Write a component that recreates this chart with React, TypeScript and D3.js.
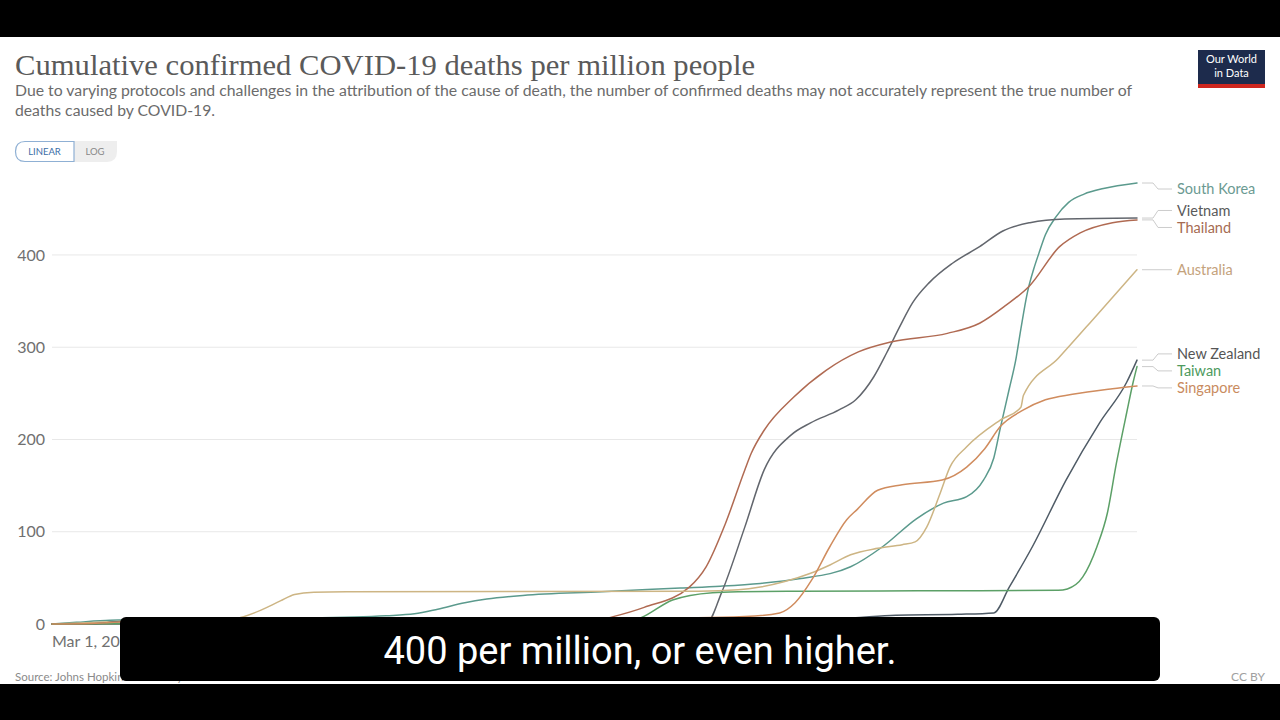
import React from "react";
import * as d3 from "d3";

type Pt = [string, number];

const southKorea: Pt[] = [
  ["2020-03-01", 0], ["2020-03-20", 1.8], ["2020-04-15", 4], ["2020-06-01", 5], ["2020-09-01", 6.3],
  ["2020-11-15", 9], ["2020-12-07", 11], ["2020-12-25", 16], ["2021-01-15", 23], ["2021-02-01", 27],
  ["2021-03-01", 31], ["2021-05-01", 35], ["2021-07-01", 39], ["2021-08-01", 41], ["2021-09-01", 44],
  ["2021-10-01", 49], ["2021-11-10", 62], ["2021-12-05", 84], ["2021-12-31", 114], ["2022-01-21", 131],
  ["2022-02-08", 138], ["2022-02-21", 156], ["2022-03-01", 180], ["2022-03-06", 212], ["2022-03-13", 255],
  ["2022-03-18", 286], ["2022-03-22", 320], ["2022-03-27", 359], ["2022-04-01", 385], ["2022-04-05", 402],
  ["2022-04-10", 422], ["2022-04-18", 441], ["2022-04-28", 457], ["2022-05-10", 466], ["2022-05-25", 472],
  ["2022-06-20", 478],
];

const vietnam: Pt[] = [
  ["2020-03-01", 0], ["2020-08-01", 0.1], ["2021-06-01", 0.4], ["2021-07-10", 0.6], ["2021-07-22", 2],
  ["2021-08-02", 34], ["2021-08-20", 105], ["2021-09-04", 167], ["2021-09-25", 205], ["2021-10-10", 218],
  ["2021-11-01", 232], ["2021-11-14", 243], ["2021-11-28", 268], ["2021-12-08", 294], ["2021-12-18", 322],
  ["2021-12-28", 348], ["2022-01-10", 370], ["2022-01-28", 391], ["2022-02-18", 409], ["2022-03-08", 426],
  ["2022-03-29", 435], ["2022-04-25", 439], ["2022-06-20", 440],
];

const thailand: Pt[] = [
  ["2020-03-01", 0], ["2020-04-15", 0.6], ["2021-03-31", 1.4], ["2021-04-20", 2], ["2021-05-10", 8],
  ["2021-06-03", 18], ["2021-07-08", 40], ["2021-07-21", 62], ["2021-08-05", 109], ["2021-08-20", 167],
  ["2021-08-25", 185], ["2021-09-04", 210], ["2021-09-27", 246], ["2021-10-22", 275], ["2021-11-16", 295],
  ["2021-12-12", 306], ["2022-01-24", 315], ["2022-02-18", 326], ["2022-03-10", 345], ["2022-03-29", 367],
  ["2022-04-21", 409], ["2022-05-07", 424], ["2022-06-01", 435], ["2022-06-20", 438],
];

const australia: Pt[] = [
  ["2020-03-01", 0], ["2020-04-15", 2.4], ["2020-05-15", 4], ["2020-07-15", 4.5], ["2020-07-25", 7],
  ["2020-08-10", 15], ["2020-08-25", 25], ["2020-09-05", 32], ["2020-09-20", 34.5], ["2020-10-15", 35],
  ["2021-07-15", 35.5], ["2021-08-15", 37], ["2021-09-01", 40], ["2021-09-20", 46], ["2021-10-10", 55],
  ["2021-10-25", 64], ["2021-11-10", 75], ["2021-12-01", 82], ["2021-12-20", 86], ["2021-12-30", 89],
  ["2022-01-08", 105], ["2022-01-18", 140], ["2022-01-26", 170], ["2022-02-08", 192], ["2022-03-06", 221],
  ["2022-03-22", 235], ["2022-03-24", 248], ["2022-04-20", 288], ["2022-05-20", 335], ["2022-06-20", 384],
];

const newZealand: Pt[] = [
  ["2020-03-01", 0], ["2020-04-01", 0.2], ["2020-04-20", 2.5], ["2020-05-15", 4.2], ["2020-12-31", 5],
  ["2021-08-01", 5.2], ["2021-09-15", 5.5], ["2021-11-01", 6], ["2021-12-15", 9.5], ["2022-02-01", 10.5],
  ["2022-03-01", 12], ["2022-03-13", 40], ["2022-03-31", 84], ["2022-04-26", 156], ["2022-05-22", 218],
  ["2022-06-12", 262], ["2022-06-20", 286],
];

const taiwan: Pt[] = [
  ["2020-03-01", 0], ["2020-05-01", 0.3], ["2021-05-10", 0.5], ["2021-05-20", 1.5], ["2021-06-01", 7],
  ["2021-06-25", 26], ["2021-07-26", 34], ["2021-08-15", 35], ["2021-10-01", 35.6], ["2022-01-01", 36],
  ["2022-04-20", 36.5], ["2022-04-27", 38], ["2022-05-09", 51], ["2022-05-20", 84], ["2022-05-28", 120],
  ["2022-06-04", 174], ["2022-06-12", 229], ["2022-06-17", 262], ["2022-06-20", 279],
];

const singapore: Pt[] = [
  ["2020-03-01", 0], ["2020-04-01", 0.5], ["2020-05-01", 3], ["2020-06-15", 4.4], ["2021-06-01", 5.8],
  ["2021-08-20", 8], ["2021-09-16", 12], ["2021-09-28", 23], ["2021-10-11", 48], ["2021-10-25", 84],
  ["2021-11-07", 113], ["2021-11-15", 124], ["2021-12-01", 145], ["2021-12-20", 151], ["2022-01-20", 156],
  ["2022-02-08", 170], ["2022-02-22", 190], ["2022-03-06", 214], ["2022-03-24", 232], ["2022-04-10", 243],
  ["2022-05-01", 249], ["2022-06-01", 255], ["2022-06-20", 258],
];

const seriesNames = ["South Korea", "Vietnam", "Thailand", "Australia", "New Zealand", "Taiwan", "Singapore"];
const seriesData = [southKorea, vietnam, thailand, australia, newZealand, taiwan, singapore];
const lineColors = ["#5b9a8d", "#62666d", "#b06a52", "#cdb584", "#4f5b66", "#5ca067", "#d08c5e"];
const labelColors = ["#6b9a92", "#5a5a5a", "#a66b52", "#c4a27c", "#555555", "#4e9a5e", "#c98b60"];

const yTicks = [0, 100, 200, 300, 400];
const startDate = "2020-03-01";
const endDate = "2022-06-20";
const startLabel = "Mar 1, 2020";

const title = "Cumulative confirmed COVID-19 deaths per million people";
const subtitle1 =
  "Due to varying protocols and challenges in the attribution of the cause of death, the number of confirmed deaths may not accurately represent the true number of";
const subtitle2 = "deaths caused by COVID-19.";
const sourceText = "Source: Johns Hopkins University CSSE COVID-19 Data";
const caption = "400 per million, or even higher.";

export default function App() {
  const parse = d3.timeParse("%Y-%m-%d");
  const W = 1280, H = 720;
  const left = 52, right = 1137, bottom = 624;
  const x = d3.scaleTime().domain([parse(startDate)!, parse(endDate)!]).range([left, right]);
  const maxVal = d3.max(seriesData, (s) => d3.max(s, (d) => d[1]))!;
  const y = d3.scaleLinear().domain([0, maxVal]).range([bottom, 183]);
  const line = d3
    .line<Pt>()
    .x((d) => x(parse(d[0])!))
    .y((d) => y(d[1]))
    .curve(d3.curveMonotoneX);

  // label placement
  const items = seriesNames.map((name, i) => ({
    name,
    i,
    endY: y(seriesData[i][seriesData[i].length - 1][1]),
    labelY: 0,
  }));
  items.sort((a, b) => a.endY - b.endY);
  const gap = 17;
  let clusters = items.map((it) => ({ members: [it], center: it.endY }));
  let merged = true;
  while (merged) {
    merged = false;
    for (let k = 0; k < clusters.length - 1; k++) {
      const a = clusters[k], b = clusters[k + 1];
      const aBottom = a.center + ((a.members.length - 1) * gap) / 2;
      const bTop = b.center - ((b.members.length - 1) * gap) / 2;
      if (bTop - aBottom < gap) {
        const members = a.members.concat(b.members);
        const center = d3.mean(members, (m) => m.endY)!;
        clusters.splice(k, 2, { members, center });
        merged = true;
        break;
      }
    }
  }
  clusters.forEach((c) => {
    c.members.forEach((m, j) => {
      m.labelY = c.center + (j - (c.members.length - 1) / 2) * gap;
    });
  });
  const topLimit = y(maxVal) + 6;
  items.forEach((m) => {
    if (m.labelY < topLimit) m.labelY = topLimit;
  });

  const lato = "Lato, 'Open Sans', sans-serif";

  return (
    <svg
      width={W}
      height={H}
      viewBox={`0 0 ${W} ${H}`}
      style={{ position: "absolute", left: 0, top: 0, background: "#fff" }}
    >
      <rect x={0} y={0} width={W} height={H} fill="#ffffff" />

      {/* Title & subtitle */}
      <text x={15} y={75} fontFamily="'Liberation Serif', 'DejaVu Serif', serif" fontSize={29} fill="#5a5a5a"
        textLength={740} lengthAdjust="spacingAndGlyphs">
        {title}
      </text>
      <text x={15} y={96} fontFamily={lato} fontSize={14.5} fill="#6b6b6b" textLength={1117} lengthAdjust="spacingAndGlyphs">
        {subtitle1}
      </text>
      <text x={15} y={116} fontFamily={lato} fontSize={14.5} fill="#6b6b6b" textLength={200} lengthAdjust="spacingAndGlyphs">
        {subtitle2}
      </text>

      {/* Logo */}
      <rect x={1198} y={50} width={67} height={38} fill="#1d2b4c" />
      <rect x={1198} y={84} width={67} height={4} fill="#ce261e" />
      <text x={1231.5} y={63} textAnchor="middle" fontFamily={lato} fontSize={11} fill="#fff">
        Our World
      </text>
      <text x={1231.5} y={76.5} textAnchor="middle" fontFamily={lato} fontSize={11} fill="#fff">
        in Data
      </text>

      {/* LINEAR / LOG toggle */}
      <path d="M74,141 H117 Q117,141 117,151.5 Q117,162 107,162 H74 Z" fill="#eeeeee" />
      <path d="M74,141.5 H25 Q15.5,141.5 15.5,151.5 Q15.5,161.5 25,161.5 H74 Z" fill="#fff" stroke="#8fb0d4" strokeWidth={1.2} />
      <text x={44.5} y={155} textAnchor="middle" fontFamily={lato} fontSize={9.5} fill="#3c6ea8">
        LINEAR
      </text>
      <text x={95} y={155} textAnchor="middle" fontFamily={lato} fontSize={9.5} fill="#888">
        LOG
      </text>

      {/* Grid */}
      {yTicks.map((t) => (
        <g key={t}>
          <line x1={left} x2={right} y1={y(t)} y2={y(t)} stroke={t === 0 ? "#d8d8d8" : "#e8e8e8"} strokeWidth={1} />
          <text x={45} y={y(t)} dy="0.35em" textAnchor="end" fontFamily={lato} fontSize={16} fill="#707070">
            {t}
          </text>
        </g>
      ))}

      {/* Lines */}
      {seriesData.map((s, i) => (
        <path key={seriesNames[i]} d={line(s) || ""} fill="none" stroke={lineColors[i]} strokeWidth={1.5}
          strokeLinejoin="round" strokeLinecap="round" />
      ))}

      {/* Labels */}
      {items.map((m) => (
        <g key={m.name}>
          <path
            d={`M${right + 5},${m.endY} H${right + 16} L${right + 21},${m.labelY} H${right + 35}`}
            fill="none"
            stroke="#cccccc"
            strokeWidth={1}
          />
          <text x={right + 40} y={m.labelY} dy="0.35em" fontFamily={lato} fontSize={14.5} fill={labelColors[m.i]}>
            {m.name}
          </text>
        </g>
      ))}

      {/* X axis start label */}
      <text x={left} y={647} fontFamily={lato} fontSize={16} fill="#707070">
        {startLabel}
      </text>

      {/* Footer */}
      <text x={15} y={681} fontFamily={lato} fontSize={11.5} fill="#8a8a8a">
        {sourceText}
      </text>
      <text x={1265} y={681} textAnchor="end" fontFamily={lato} fontSize={12} fill="#a0a0a0">
        CC BY
      </text>

      {/* Video overlays */}
      <rect x={0} y={0} width={W} height={37} fill="#000" />
      <rect x={0} y={684} width={W} height={36} fill="#000" />
      <rect x={120} y={617} width={1040} height={64} rx={6} fill="#000" />
      <text x={640} y={664} textAnchor="middle" fontFamily="Roboto, 'Noto Sans', sans-serif" fontSize={38} fill="#fff">
        {caption}
      </text>
    </svg>
  );
}
